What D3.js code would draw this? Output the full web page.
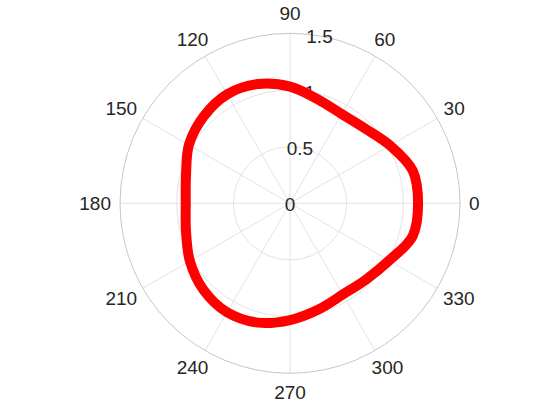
<!DOCTYPE html>
<html>
<head>
<meta charset="utf-8">
<script src="https://cdn.jsdelivr.net/npm/d3@7"></script>
<style>
  body { margin: 0; background: #fff; }
  text { font-family: "Liberation Sans", Arial, Helvetica, sans-serif; fill: #262626; }
</style>
</head>
<body>
<svg id="chart" width="560" height="420"></svg>
<script>
// angles in degrees (counter-clockwise from east) and radius
var thetaDeg = [0, 15, 30, 45, 60, 75, 90, 105, 120, 135, 150, 165,
                180, 195, 210, 225, 240, 255, 270, 285, 300, 315, 330, 345];
var rValues = [1.13, 1.12, 1.02, 0.935, 0.91, 0.95, 1.03, 1.09, 1.11, 1.08, 1.03, 0.95,
               0.92, 0.95, 1.02, 1.08, 1.11, 1.09, 1.03, 0.97, 0.93, 0.95, 1.01, 1.12];

var rTicks = [0, 0.5, 1, 1.5];
var thetaTicks = [0, 30, 60, 90, 120, 150, 180, 210, 240, 270, 300, 330];

var width = 560, height = 420;
var cx = 290, cy = 203.3;
var outerR = 170;

var svg = d3.select("#chart");

var r = d3.scaleLinear().domain([0, 1.5]).range([0, outerR]);
var rad = function (d) { return d * Math.PI / 180; };

var g = svg.append("g").attr("transform", "translate(" + cx + "," + cy + ")");

// spokes
g.selectAll(".spoke")
    .data(thetaTicks)
    .enter().append("line")
    .attr("class", "spoke")
    .attr("x1", 0).attr("y1", 0)
    .attr("x2", function (d) { return r(1.5) * Math.cos(rad(d)); })
    .attr("y2", function (d) { return -r(1.5) * Math.sin(rad(d)); })
    .attr("stroke", "#e3e3e3")
    .attr("stroke-width", 1);

// rings
g.selectAll(".ring")
    .data(rTicks.filter(function (d) { return d > 0; }))
    .enter().append("circle")
    .attr("class", "ring")
    .attr("r", function (d) { return r(d); })
    .attr("fill", "none")
    .attr("stroke", function (d) { return d === 1.5 ? "#c6c6c6" : "#e3e3e3"; })
    .attr("stroke-width", 1);

// theta labels, pushed out according to their box
var fontSize = 19, boxH = 21, pad = 9;
g.selectAll(".tlabel")
    .data(thetaTicks)
    .enter().append("text")
    .attr("class", "tlabel")
    .attr("font-size", fontSize)
    .attr("text-anchor", "middle")
    .attr("dominant-baseline", "central")
    .text(function (d) { return d; })
    .each(function (d) {
        var w = this.getComputedTextLength();
        var c = Math.cos(rad(d)), s = Math.sin(rad(d));
        var x = (outerR + pad) * c + (w / 2) * c;
        var y = -(outerR + pad) * s - (boxH / 2) * s;
        d3.select(this).attr("x", x).attr("y", y);
    });

// radius labels along 80 degrees
g.selectAll(".rlabel")
    .data(rTicks)
    .enter().append("text")
    .attr("class", "rlabel")
    .attr("font-size", fontSize)
    .attr("text-anchor", "middle")
    .attr("dominant-baseline", "central")
    .attr("x", function (d) { return r(d) * Math.cos(rad(80)); })
    .attr("y", function (d) { return -r(d) * Math.sin(rad(80)) + 1; })
    .text(function (d) { return d; });

// the curve
var line = d3.lineRadial()
    .angle(function (d, i) { return Math.PI / 2 - rad(thetaDeg[i]); })
    .radius(function (d) { return r(d); })
    .curve(d3.curveCatmullRomClosed);

g.append("path")
    .datum(rValues)
    .attr("d", line)
    .attr("fill", "none")
    .attr("stroke", "#ff0000")
    .attr("stroke-width", 10)
    .attr("stroke-linejoin", "round");
</script>
</body>
</html>
